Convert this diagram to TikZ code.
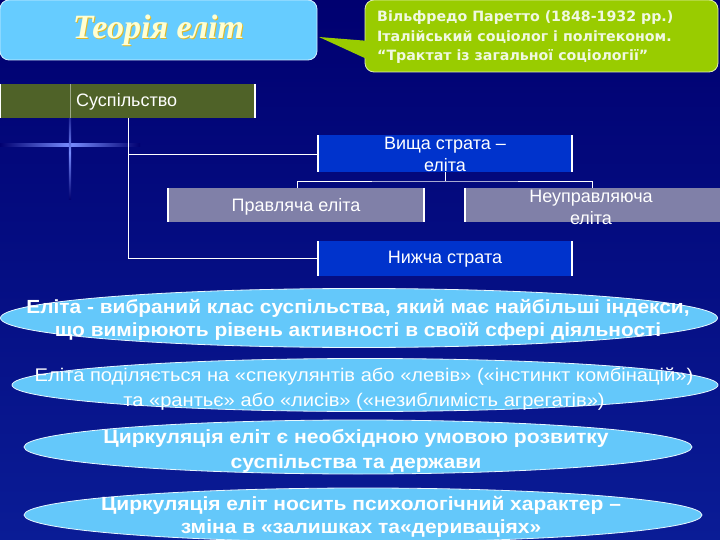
\documentclass[tikz,border=0pt]{standalone}
\usepackage{fontspec}
\setmainfont{Liberation Sans}
\newfontfamily\calloutfont{DejaVu Sans}
\newfontfamily\titlefont{Liberation Serif}
\newfontfamily\ellfont[FakeStretch=1.1]{Liberation Sans}
\usetikzlibrary{shapes.geometric}
\definecolor{bgnavy}{RGB}{0,0,112}
\definecolor{bgblue}{RGB}{10,28,150}
\definecolor{titlefill}{RGB}{102,204,255}
\definecolor{callgreen}{RGB}{153,204,0}
\definecolor{calltext}{RGB}{240,248,225}
\definecolor{olive}{RGB}{79,98,40}
\definecolor{stratablue}{RGB}{0,51,204}
\definecolor{lavender}{RGB}{128,128,168}
\definecolor{ellfill}{RGB}{100,200,250}
\definecolor{cream}{RGB}{255,255,210}
\definecolor{gold}{RGB}{225,185,40}
\definecolor{flare}{RGB}{120,140,255}
\begin{document}
\begin{tikzpicture}[x=1pt,y=-1pt,
  box/.style={inner sep=0pt, outer sep=0pt},
  sideline/.style={draw=white, line width=1.6pt},
  conn/.style={draw=white, line width=0.9pt},
  boxtext/.style={text=white, inner sep=0pt, align=center, font=\fontsize{18}{22}\selectfont},
  ell/.style={ellipse, fill=ellfill, draw=white!85!ellfill, line width=0.8pt, inner sep=0pt},
  elltext/.style={text=white, inner sep=0pt, align=center},
]
\useasboundingbox (0,0) rectangle (720,540);
\shade[top color=bgnavy, bottom color=bgblue] (0,0) rectangle (720,540);

% flare
\shade[left color=bgnavy, right color=bgnavy, middle color=flare] (0,144) rectangle (140,146.5);
\shade[top color=bgnavy, bottom color=bgnavy, middle color=flare] (68.8,105) rectangle (71.2,200);

% title
\node[box, fill=titlefill, draw=white!70!titlefill, line width=0.8pt, rounded corners=9pt,
      minimum width=317pt, minimum height=60pt] (title) at (158.5,30) {};
\node[text=gold, font=\titlefont\bfseries\itshape\fontsize{34}{38}\selectfont, inner sep=0pt]
      at ([xshift=1pt,yshift=-1pt]title.center) {Теорія еліт};
\node[text=cream, font=\titlefont\bfseries\itshape\fontsize{34}{38}\selectfont, inner sep=0pt]
      (titletext) at (title.center) {Теорія еліт};

% callout
\node[box, fill=callgreen, draw=white!70!callgreen, line width=0.8pt, rounded corners=9pt,
      minimum width=353pt, minimum height=72pt] (info) at (541.5,36) {};
\fill[callgreen] ([xshift=2pt,yshift=-7pt]title.east) -- ([xshift=4pt,yshift=-5pt]info.west)
      -- ([xshift=4pt,yshift=-24pt]info.west) -- cycle;
\node[anchor=west, inner sep=0pt, align=left, text=calltext,
      font=\calloutfont\bfseries\fontsize{14.2}{19.5}\selectfont] (infotext) at (377,37.5)
      {Вільфредо Паретто (1848-1932 рр.)\\Італійський соціолог і політеконом.\\“Трактат із загальної соціології”};

% hierarchy boxes
\node[box, fill=olive, minimum width=255pt, minimum height=34pt] (soc) at (127.5,101) {};
\draw[olive!55!white, line width=1pt] (70,84) -- (70,118);
\draw[sideline] (soc.north west) -- (soc.south west);
\draw[sideline] (soc.north east) -- (soc.south east);
\node[boxtext, anchor=west] (soclabel) at (76,102) {Суспільство};

\node[box, fill=stratablue, minimum width=254pt, minimum height=37pt] (high) at (445,154) {};
\draw[sideline] (high.north west) -- (high.south west);
\draw[sideline] (high.north east) -- (high.south east);
\node[boxtext] (highlabel) at (445,154) {Вища страта –\\еліта};

\node[box, fill=lavender, minimum width=256pt, minimum height=34pt] (ruling) at (296,205) {};
\draw[sideline] (ruling.north west) -- (ruling.south west);
\draw[sideline] (ruling.north east) -- (ruling.south east);
\node[boxtext] (rulinglabel) at (296,207) {Правляча еліта};

\node[box, fill=lavender, minimum width=256pt, minimum height=34pt] (nonruling) at (593,205) {};
\draw[sideline] (nonruling.north west) -- (nonruling.south west);
\node[boxtext] (nonrulinglabel) at (591,207) {Неуправляюча\\еліта};

\node[box, fill=stratablue, minimum width=254pt, minimum height=35pt] (low) at (445,258.5) {};
\draw[sideline] (low.north west) -- (low.south west);
\draw[sideline] (low.north east) -- (low.south east);
\node[boxtext] (lowlabel) at (445,259) {Нижча страта};

% connectors
\coordinate (fork) at (445,181);
\draw[conn] (soc.south -| 128,0) |- (high.west);
\draw[conn] (soc.south -| 128,0) |- (low.west);
\draw[conn] (high.south) -- (fork);
\draw[conn] ([xshift=1pt]ruling.north) |- (fork) -| ([xshift=-1pt]nonruling.north);

% ellipses
\node[ell, minimum width=717pt, minimum height=59pt] (e1) at (359,318) {};
\node[elltext, font=\ellfont\bfseries\fontsize{19}{23}\selectfont] (e1text) at (358,320)
  {Еліта - вибраний клас суспільства, який має найбільші індекси,\\що вимірюють рівень активності в своїй сфері діяльності};

\node[ell, minimum width=706pt, minimum height=53pt] (e2) at (365,385) {};
\node[elltext, font=\ellfont\fontsize{18.3}{25}\selectfont] (e2text) at (364,389)
  {Еліта поділяється на «спекулянтів або «левів» («інстинкт комбінацій»)\\та «рантьє» або «лисів» («незиблимість агрегатів»)};

\node[ell, minimum width=668pt, minimum height=54pt] (e3) at (358,447) {};
\node[elltext, font=\ellfont\bfseries\fontsize{19.2}{25}\selectfont] (e3text) at (356,451)
  {Циркуляція еліт є необхідною умовою розвитку\\суспільства та держави};

\node[ell, minimum width=678pt, minimum height=54pt] (e4) at (363,515) {};
\node[elltext, font=\ellfont\bfseries\fontsize{19.1}{23}\selectfont] (e4text) at (361,517)
  {Циркуляція еліт носить психологічний характер –\\зміна в «залишках та«дериваціях»};
\end{tikzpicture}
\end{document}
